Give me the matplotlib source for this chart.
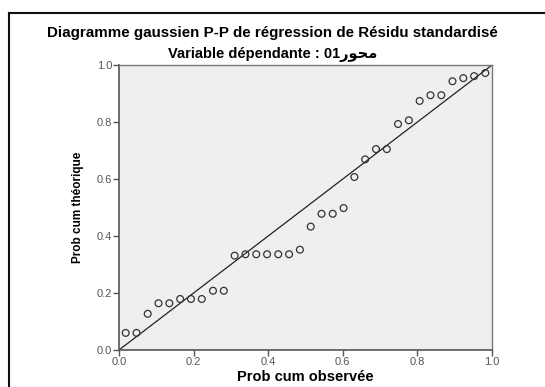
import matplotlib
matplotlib.use('Agg')
import matplotlib.pyplot as plt
from matplotlib.lines import Line2D

obs_cum = [0.018, 0.047, 0.077, 0.106, 0.135, 0.164, 0.193, 0.222, 0.252, 0.281,
           0.310, 0.339, 0.368, 0.397, 0.427, 0.456, 0.485, 0.514, 0.543, 0.573,
           0.602, 0.631, 0.660, 0.689, 0.718, 0.748, 0.777, 0.806, 0.835, 0.864,
           0.894, 0.923, 0.952, 0.982]
exp_cum = [0.060, 0.060, 0.127, 0.164, 0.164, 0.179, 0.179, 0.179, 0.208, 0.208,
           0.331, 0.336, 0.336, 0.336, 0.336, 0.336, 0.352, 0.433, 0.478, 0.478,
           0.498, 0.607, 0.669, 0.705, 0.705, 0.793, 0.806, 0.874, 0.894, 0.894,
           0.943, 0.954, 0.961, 0.972]
ticks = [0.0, 0.2, 0.4, 0.6, 0.8, 1.0]

fam = ['Liberation Sans', 'DejaVu Sans']
plt.rcParams['font.family'] = fam

fig = plt.figure(figsize=(5.45, 3.87), dpi=100)
ax = fig.add_axes([0.2183, 0.0956, 0.6845, 0.7364])
ax.set_facecolor('#efefef')

ax.plot([0, 1], [0, 1], color='#222222', lw=0.9)
ax.scatter(obs_cum, exp_cum, s=24, facecolors='none', edgecolors='#333333', linewidths=0.9, zorder=3)

ax.set_xlim(0, 1)
ax.set_ylim(0, 1)
ax.set_xticks(ticks)
ax.set_yticks(ticks)
ax.set_xticklabels([f'{t:.1f}' for t in ticks])
ax.set_yticklabels([f'{t:.1f}' for t in ticks])
ax.tick_params(direction='out', length=4, width=1, color='#555555', labelsize=8, labelcolor='#555555', pad=1)
for s in ['left', 'bottom']:
    ax.spines[s].set_color('#555555')
    ax.spines[s].set_linewidth(1.2)
for s in ['top', 'right']:
    ax.spines[s].set_color('#777777')
    ax.spines[s].set_linewidth(1.0)

ax.set_xlabel('Prob cum observée', fontsize=10.5, fontweight='bold', labelpad=2)
ax.set_ylabel('Prob cum théorique', fontsize=8.5, fontweight='bold', labelpad=9)

fig.text(0.5, 0.915, 'Diagramme gaussien P-P de régression de Résidu standardisé',
         ha='center', va='center', fontsize=10.9, fontweight='bold')
# arabic "محور" in shaped presentation forms, visual order
fig.text(0.5, 0.858, 'Variable dépendante : 01\ufead\ufeee\ufea4\ufee3',
         ha='center', va='center', fontsize=10.5, fontweight='bold')

# outer frame (left and top edges)
fig.add_artist(Line2D([0.0165, 0.0165], [0.0, 0.966], color='#111111', lw=1.5))
fig.add_artist(Line2D([0.0165, 1.0], [0.966, 0.966], color='#111111', lw=1.5))

fig.savefig('out.png', dpi=100)
